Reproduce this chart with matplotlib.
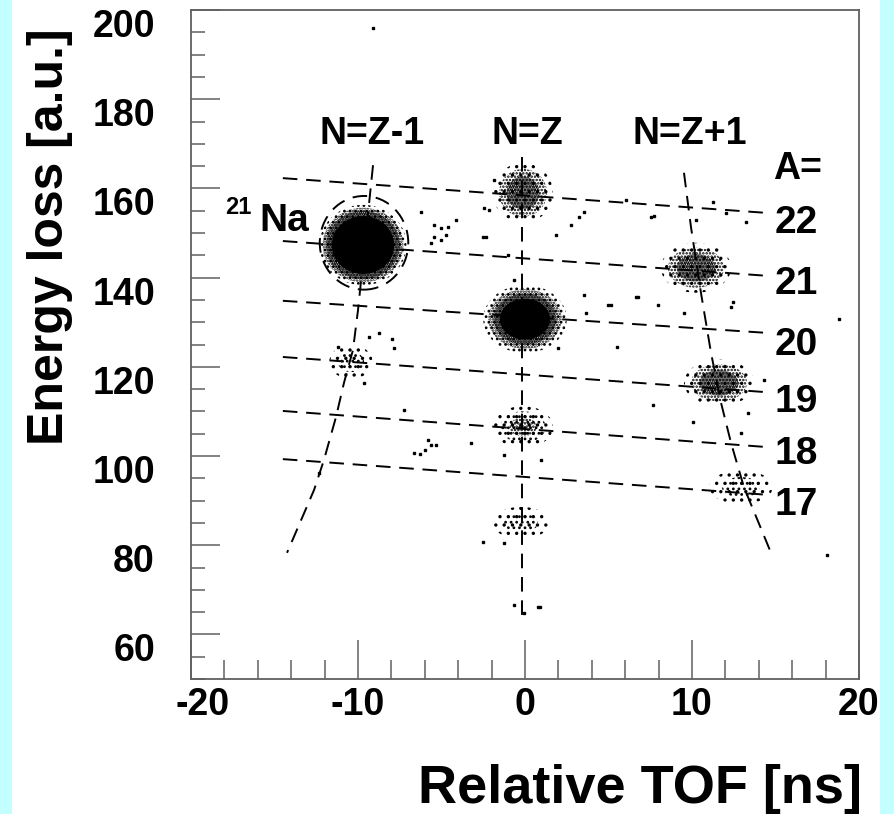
# Energy loss versus relative time of flight, particle identification plot
# (ROOT style: cyan page, white pad, inward ticks, dashed A and N-Z loci).

import matplotlib as mpl
mpl.use('Agg')
import matplotlib.pyplot as plt
from matplotlib.patches import Ellipse, Rectangle
from matplotlib.ticker import MultipleLocator, FixedLocator
from matplotlib.transforms import ScaledTranslation

# constants or globals
PAGE_COLOR = '#c4ffff'
FRAME_COLOR = '#606060'
INK = 'black'
DASHES = (7.5, 4.5)

# ---------------- data ----------------
# mass number lines (A = const), left and right end points
A_VALUES = [22, 21, 20, 19, 18, 17]
A_LINE_TOF = [-14.5, 14.5]
A_LINE_DE_LEFT = [162.3, 148.2, 134.8, 122.2, 110.1, 99.3]
A_LINE_DE_RIGHT = [154.5, 140.4, 127.6, 114.3, 102.0, 91.3]

# isospin loci
NZ_TOF = [-0.2, -0.2]
NZ_DE = [167.0, 63.9]
NZM1_TOF = [-9.10, -10.0, -10.3, -10.84, -11.32, -12.04, -12.63, -14.25]
NZM1_DE = [165.2, 132.7, 123.8, 116.4, 108.7, 99.1, 92.4, 78.3]
NZP1_TOF = [9.52, 9.94, 10.54, 11.14, 11.74, 12.34, 13.11, 14.73]
NZP1_DE = [163.5, 151.3, 136.5, 123.1, 111.9, 102.9, 93.0, 78.3]

# event clusters: centre, half extent and rough number of events
CLUSTER_NAMES = ['21Na', '22Mg', '20Na', '18F', '16O', '21Mg', '19Ne', '17F', '19Mg']
CLUSTER_TOF = [-9.70, -0.12, 0.0, -0.12, -0.24, 10.24, 11.62, 12.93, -10.42]
CLUSTER_DE = [147.3, 159.0, 130.7, 106.5, 85.0, 142.2, 116.4, 93.0, 121.1]
CLUSTER_DTOF = [2.6, 1.8, 2.5, 1.8, 1.7, 2.1, 2.1, 1.9, 1.3]
CLUSTER_DDE = [9.0, 6.7, 7.6, 4.7, 3.6, 5.6, 5.2, 3.8, 3.8]
CLUSTER_COUNTS = [3000, 700, 2000, 500, 150, 600, 900, 150, 100]

# isolated events
OUTLIER_TOF = [-6.23, -5.45, -5.03, -4.61, -4.13, -4.73, -5.45, -5.63, -5.03,
               -1.86, -2.46, -2.16, -2.51, -2.34, 2.75, 3.23, 3.53, 6.05,
               7.54, 1.86, 4.97, 5.15, 6.65, 3.53, 3.65, 5.51, 1.98, -0.66,
               -1.02, -8.74, -9.34, -7.96, -7.84, -11.20, -9.64, -7.25, -5.81,
               -5.63, -5.33, -5.99, -6.65, -6.29, -3.23, -1.26, 0.96, -2.51,
               -1.26, -0.66, 0.78, 0.90, -0.06, -12.34, 7.72, 11.26, 10.24,
               13.23, 12.04, 6.77, 7.96, 9.52, 12.34, 12.46, 18.80, 7.66,
               10.06, 13.35, 14.31, 12.93, -9.10, 18.08]
OUTLIER_DE = [154.7, 151.8, 151.1, 151.3, 152.9, 149.6, 149.1, 147.8, 148.4,
              161.9, 155.6, 155.2, 149.1, 149.1, 151.8, 153.6, 154.7, 157.4,
              153.6, 149.6, 133.9, 133.9, 135.7, 136.1, 132.1, 124.4, 124.2, 139.5,
              145.1, 127.6, 126.7, 126.2, 124.2, 124.4, 116.4, 110.3, 103.6,
              102.5, 102.5, 101.3, 100.7, 100.4, 102.9, 100.2, 99.1, 80.7,
              80.5, 66.6, 66.1, 66.1, 64.8, 96.2, 153.8, 157.0, 152.9,
              152.5, 154.5, 135.7, 133.9, 132.1, 133.4, 134.5, 130.7, 111.4,
              107.6, 109.6, 117.0, 105.2, 196.0, 77.8]

X_MAJOR = [-20, -10, 0, 10, 20]
Y_MAJOR = [60, 80, 100, 120, 140, 160, 180, 200]
A_LABEL_DE = [152.2, 138.6, 124.9, 112.1, 100.4, 89.0]

plt.ioff()
mpl.rcParams['font.family'] = 'Liberation Sans'
mpl.rcParams['font.weight'] = 'bold'
mpl.rcParams['hatch.linewidth'] = 1.2

fig = plt.figure(figsize=(8.95, 8.14), dpi=100, facecolor=PAGE_COLOR)
# white pad on the cyan page (behind everything else)
fig.patches.append(Rectangle((12 / 895, 0), (880 - 12) / 895, 1,
                             transform=fig.transFigure, facecolor='white',
                             edgecolor='none', zorder=-10))

ax = fig.add_axes([191 / 895, 135 / 814, 668 / 895, 669 / 814])
ax.set_facecolor('white')
ax.set_xlim(-20, 20)
ax.set_ylim(50, 200)


# helper: a cluster is drawn as nested ellipses with denser dot hatching
def tiers_for(count):
    if count > 2500:
        return [(1.0, '...'), (0.93, '......'), (0.85, '........'), (0.72, None)]
    if count > 1000:
        return [(1.0, '...'), (0.88, '......'), (0.75, '........'), (0.6, None)]
    if count > 550:
        return [(1.0, '..'), (0.8, '.....'), (0.55, '........')]
    if count > 300:
        return [(1.0, '..'), (0.75, '...'), (0.45, '.....')]
    return [(1.0, '..'), (0.6, '...')]


for tof, de, dt, dd, n in zip(CLUSTER_TOF, CLUSTER_DE, CLUSTER_DTOF,
                              CLUSTER_DDE, CLUSTER_COUNTS):
    for scale, hatch in tiers_for(n):
        if hatch is None:
            e = Ellipse((tof, de), 2 * dt * scale, 2 * dd * scale,
                        facecolor=INK, edgecolor='none', zorder=2)
        else:
            e = Ellipse((tof, de), 2 * dt * scale, 2 * dd * scale,
                        facecolor='none', edgecolor=INK, linewidth=0,
                        hatch=hatch, zorder=2)
        ax.add_patch(e)

ax.plot(OUTLIER_TOF, OUTLIER_DE, linestyle='none', marker='s', markersize=1.6,
        color=INK, zorder=3)

# dashed loci
line_style = dict(color=INK, linewidth=1.4, linestyle=(0, DASHES), zorder=4)
for de_l, de_r in zip(A_LINE_DE_LEFT, A_LINE_DE_RIGHT):
    ax.plot(A_LINE_TOF, [de_l, de_r], **line_style)
ax.plot(NZ_TOF, NZ_DE, **line_style)
ax.plot(NZM1_TOF, NZM1_DE, **line_style)
ax.plot(NZP1_TOF, NZP1_DE, **line_style)

# dashed ring around 21Na
ax.add_patch(Ellipse((-9.64, 147.8), 5.3, 21.0, facecolor='none',
                     edgecolor=INK, linewidth=1.4, linestyle=(0, DASHES),
                     zorder=4))

# annotations
ax.text(-9.16, 172.2, 'N=Z-1', fontsize=27, ha='center', va='center')
ax.text(0.12, 172.2, 'N=Z', fontsize=27, ha='center', va='center')
ax.text(9.88, 172.2, 'N=Z+1', fontsize=27, ha='center', va='center')
ax.text(14.85, 164.3, 'A=', fontsize=27, ha='left', va='center')
for a, de in zip(A_VALUES, A_LABEL_DE):
    ax.text(14.95, de, str(a), fontsize=28, ha='left', va='center')
ax.text(-15.93, 150.5, 'Na', fontsize=28, ha='left', va='baseline')
ax.text(-16.35, 158.4, '21', fontsize=17, ha='right', va='top')

# frame and ticks
for side in ['left', 'right', 'top', 'bottom']:
    ax.spines[side].set_color(FRAME_COLOR)
    ax.spines[side].set_linewidth(1.3)
ax.xaxis.set_major_locator(FixedLocator(X_MAJOR))
ax.xaxis.set_minor_locator(MultipleLocator(2))
ax.yaxis.set_major_locator(FixedLocator(Y_MAJOR))
ax.yaxis.set_minor_locator(MultipleLocator(5))
ax.set_xticklabels([str(v) for v in X_MAJOR])
ax.set_yticklabels([str(v) for v in Y_MAJOR])
ax.tick_params(axis='both', which='both', direction='in', color=FRAME_COLOR,
               width=1.1, top=False, right=False, labelsize=27)
ax.tick_params(axis='x', which='major', length=28, pad=6)
ax.tick_params(axis='x', which='minor', length=14)
ax.tick_params(axis='y', which='major', length=21, pad=26)
ax.tick_params(axis='y', which='minor', length=10)

# ROOT placed the value labels a little below their ticks
for lab in ax.get_yticklabels():
    lab.set_transform(lab.get_transform() +
                      ScaledTranslation(0, -0.13, fig.dpi_scale_trans))
first = ax.get_xticklabels()[0]
first.set_transform(first.get_transform() +
                    ScaledTranslation(0.12, 0, fig.dpi_scale_trans))

fig.text(50 / 895, 1 - 28 / 814, 'Energy loss [a.u.]', rotation=90,
         fontsize=36, ha='center', va='top')
fig.text(862 / 895, 1 - 764 / 814, 'Relative TOF [ns]', fontsize=39,
         ha='right', va='top')

fig.savefig('out.png', dpi=100, facecolor=fig.get_facecolor())
